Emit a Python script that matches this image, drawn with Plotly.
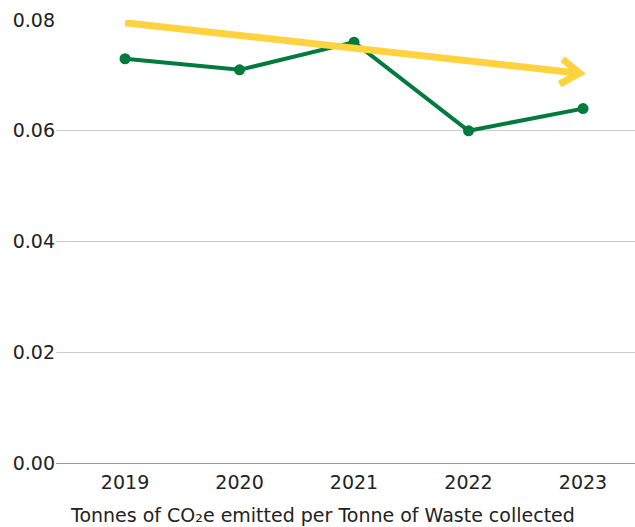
import plotly.graph_objects as go

years = ["2019", "2020", "2021", "2022", "2023"]
values = [0.073, 0.071, 0.076, 0.060, 0.064]
y_ticks = [0.00, 0.02, 0.04, 0.06, 0.08]
y_tick_labels = ["0.00", "0.02", "0.04", "0.06", "0.08"]
trend_x = [0.0, 3.97]
trend_y = [0.0795, 0.0704]
axis_title = "Tonnes of CO₂e emitted per Tonne of Waste collected"

GREEN = "#007A3D"
YELLOW = "#FFD23F"
FONT = "DejaVu Sans"

xi = list(range(len(years)))

# chevron arrowhead wings (offsets from tip in data units)
px_per_x = 114.5
px_per_y = 443 / 0.08
tip_x, tip_y = trend_x[1], trend_y[1]
wing1 = (tip_x - 17 / px_per_x, tip_y + 14 / px_per_y)
wing2 = (tip_x - 20 / px_per_x, tip_y - 11 / px_per_y)

fig = go.Figure()
fig.add_trace(go.Scatter(
    x=xi, y=values, mode="lines+markers",
    line=dict(color=GREEN, width=4),
    marker=dict(color=GREEN, size=11),
    hoverinfo="skip", showlegend=False,
))
fig.add_trace(go.Scatter(
    x=trend_x, y=trend_y, mode="lines",
    line=dict(color=YELLOW, width=7),
    hoverinfo="skip", showlegend=False,
))
fig.add_trace(go.Scatter(
    x=[wing1[0], tip_x, wing2[0]], y=[wing1[1], tip_y, wing2[1]], mode="lines",
    line=dict(color=YELLOW, width=7),
    hoverinfo="skip", showlegend=False,
))

fig.update_layout(
    width=635, height=527,
    margin=dict(l=56, r=0, t=20, b=64),
    paper_bgcolor="white", plot_bgcolor="white",
    font=dict(family=FONT, size=19, color="#222222"),
    xaxis=dict(
        range=[-0.603, 4.454], tickmode="array", tickvals=xi, ticktext=years,
        showgrid=False, zeroline=False, showline=False, ticks="",
        tickfont=dict(size=19), ticklabelstandoff=6, fixedrange=True,
    ),
    yaxis=dict(
        range=[0, 0.08], tickmode="array", tickvals=y_ticks, ticktext=y_tick_labels,
        showgrid=True, gridcolor="#CCCCCC", gridwidth=1,
        zeroline=True, zerolinecolor="#999999", zerolinewidth=1,
        showline=False, ticks="", tickfont=dict(size=19), fixedrange=True,
    ),
    annotations=[dict(
        text=axis_title, xref="paper", yref="paper", x=0.461, y=-0.117,
        xanchor="center", yanchor="middle", showarrow=False,
        font=dict(family=FONT, size=19, color="#222222"),
    )],
)

fig.write_html("out.html")
